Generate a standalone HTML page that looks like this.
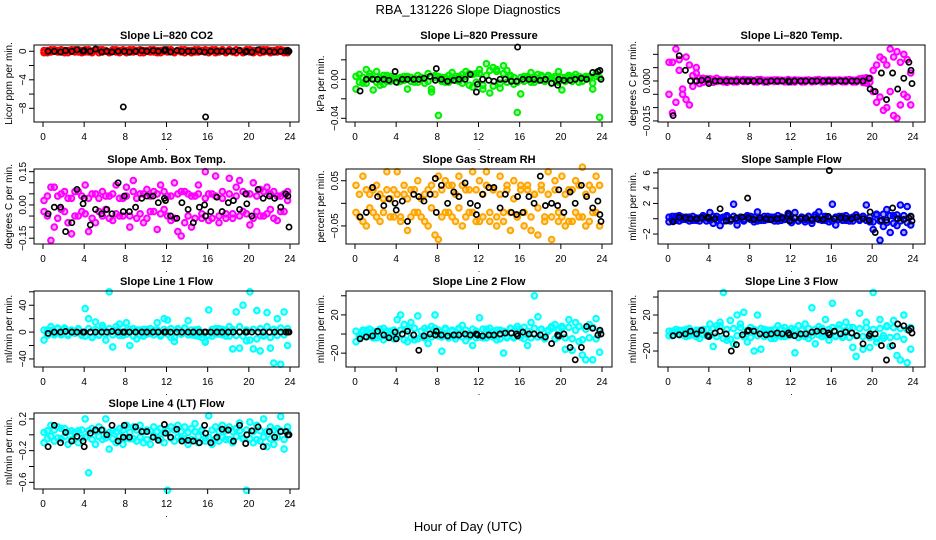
<!DOCTYPE html>
<html><head><meta charset="utf-8"><style>
html,body{margin:0;padding:0;background:#fff;}
svg{display:block;font-family:"Liberation Sans",sans-serif;}
</style></head><body>
<svg id="chart" width="936" height="540" viewBox="0 0 936 540">
<rect width="936" height="540" fill="#fff"/>
<text x="468" y="14" text-anchor="middle" font-size="13">RBA_131226  Slope Diagnostics</text>
<text x="468" y="531" text-anchor="middle" font-size="13">Hour of Day (UTC)</text>
</svg>
<script>
const cHours=[0.1,0.43,0.77,1.1,1.43,1.77,2.1,2.43,2.77,3.1,3.43,3.77,4.1,4.43,4.77,5.1,5.43,5.77,6.1,6.43,6.77,7.1,7.43,7.77,8.1,8.43,8.77,9.1,9.43,9.77,10.1,10.43,10.77,11.1,11.43,11.77,12.1,12.43,12.77,13.1,13.43,13.77,14.1,14.43,14.77,15.1,15.43,15.77,16.1,16.43,16.77,17.1,17.43,17.77,18.1,18.43,18.77,19.1,19.43,19.77,20.1,20.43,20.77,21.1,21.43,21.77,22.1,22.43,22.77,23.1,23.43,23.77];
const bHours=[0.5,1.1,1.7,2.2,2.8,3.3,3.9,4.0,4.6,5.1,5.7,6.2,6.7,7.3,7.8,7.9,8.4,9.0,9.6,10.1,10.7,11.2,11.8,11.9,12.4,13.0,13.5,14.1,14.6,15.2,15.7,15.8,16.3,16.9,17.4,18.0,18.5,19.1,19.7,19.8,20.3,20.9,21.4,22.0,22.5,23.1,23.6,23.8,23.9];
const xTicks=[0,4,8,12,16,20,24];

const co2A=[0.1,-0.2,0.2,0,-0.1,0.2,0.1,-0.2,0,0.2,-0.1,0.1,0.2,-0.1,0,0.1,-0.2,0.2,0,-0.1,0.1,0.2,-0.2,0,0.1,-0.1,0.2,0,-0.2,0.1,0,0.2,-0.1,0.1,-0.2,0,0.2,0,-0.1,0.1,0.2,-0.2,0,0.1,-0.1,0.2,0,-0.1,0.1,0.2,-0.2,0,0.1,-0.1,0.2,0,-0.2,0.1,0,0.2,-0.1,0.1,0,-0.2,0.2,0,0.1,-0.1,0.2,0,-0.2,0.1];
const co2B=[-0.2,0.1,-0.1,0.2,0.1,-0.1,-0.2,0.1,0.2,-0.1,0.2,-0.2,-0.1,0.2,-0.2,0.1,0.2,-0.1,0.1,-0.2,0.2,-0.1,0.1,0.2,-0.2,0.2,-0.1,0.1,0.2,-0.2,0.1,-0.1,0.2,-0.2,0.1,0.2,-0.1,0.2,-0.2,0.1,-0.1,0.2,0.1,-0.2,0.2,-0.1,0.1,0.2,-0.2,0.1,0.2,-0.1,0.2,-0.2,0.1,-0.1,0.2,0.1,-0.2,0.1,0.2,-0.2,0.1,0.2,-0.1,0.2,-0.2,0.1,-0.1,0.2,0.1,-0.2];
const co2K=[0,0,-0.1,0.1,0,0.2,0,0.1,0,0.3,-0.1,0,-0.1,0,-7.8,0,-0.1,0,0.1,0,0.1,0,0.1,0.2,-0.1,0.1,0,0,0,0,-0.1,-9.2,0,0,0,0,0,0.1,-0.1,0,-0.1,0.2,0,0,-0.1,0,0,0.1,0];

const presA=[-0.01,0.005,-0.004,0.01,0.003,-0.011,0.008,-0.006,0.004,-0.002,0.003,0.002,0.001,-0.002,0.003,-0.01,0.002,-0.003,0.004,0.002,-0.004,0.006,-0.01,0.004,-0.037,0.002,-0.003,0.004,0.007,0.003,-0.002,0.005,0.003,0.006,-0.008,0.006,0.01,-0.006,0.016,-0.014,0.012,0.008,-0.009,0.014,0.009,0.003,-0.005,-0.034,-0.015,0.003,0.002,0.007,-0.003,0.005,0.003,-0.002,0.004,0.002,0.003,0.008,-0.011,0.002,0.004,0.003,0.005,-0.003,0.002,0.003,0.001,-0.01,0.006,-0.039];
const presB=[0.003,-0.003,0.002,-0.004,0.006,0.001,-0.003,0.002,-0.005,0.004,-0.002,0.001,-0.003,0.002,-0.001,0.003,-0.002,0.001,-0.003,0.002,0.001,-0.002,-0.013,0.002,0.003,-0.002,0.002,-0.003,0.002,-0.001,0.003,-0.004,0.008,-0.006,0.005,-0.003,0.006,-0.01,0.004,0.009,-0.007,0.01,-0.004,0.006,-0.003,0.004,0.002,-0.003,0.002,-0.002,0.003,-0.003,0.002,-0.001,0.004,-0.002,0.003,-0.004,0.002,-0.003,0.002,-0.002,0.003,-0.002,0.001,0.003,-0.002,0.002,0.003,-0.004,0.003,0.002];
const presK=[-0.012,0,0,0,0,-0.001,0.008,-0.003,0,0,0,0,0.001,0.003,-0.001,0.011,0,-0.002,-0.001,0,0,0.005,-0.013,-0.005,0,-0.001,-0.002,0,0,-0.002,-0.002,0.033,0,0,0,-0.001,0,-0.004,-0.006,0,-0.001,-0.001,0,0.001,0,0.007,0.008,0.009,0];

const ltA=[0.007,-0.012,0.012,0.004,-0.005,0.009,-0.009,0.002,0.005,0.001,0.001,0.0003,0.0008,-0.0005,0.001,0.0003,-0.0003,0.0005,0.0002,-0.0004,0.0006,0.0003,-0.0002,0.0004,0.0003,-0.0003,0.0005,0.0002,-0.0004,0.0003,0.0002,-0.0002,0.0004,0.0001,-0.0003,0.0005,0.0002,-0.0004,0.0003,0.0002,-0.0003,0.0004,0.0001,-0.0002,0.0005,0.0002,-0.0003,0.0004,0.0003,-0.0002,0.0004,0.0002,-0.0003,0.0005,0.0003,-0.0004,0.0006,0.001,-0.0008,0.001,0.004,-0.008,0.009,-0.011,0.006,0.012,-0.013,0.011,-0.009,0.01,-0.006,0.003];
const ltB=[-0.005,0.007,-0.008,0.008,-0.003,-0.007,0.006,-0.002,0.003,-0.001,-0.0005,0.0008,-0.0004,0.0006,-0.0002,0.0004,0.0003,-0.0005,0.0003,0.0002,-0.0004,0.0003,0.0005,-0.0002,0.0004,0.0002,-0.0003,0.0005,0.0002,-0.0004,0.0003,0.0004,-0.0002,0.0003,0.0002,-0.0004,-0.0003,0.0004,0.0002,-0.0004,0.0003,0.0002,-0.0003,0.0004,0.0002,-0.0004,0.0003,0.0001,-0.0004,0.0003,0.0002,-0.0003,0.0004,0.0002,-0.0004,0.0003,0.0008,-0.0006,0.0012,-0.0005,-0.004,0.006,-0.006,0.008,-0.01,-0.004,0.009,-0.014,0.007,-0.005,0.008,-0.009];
const ltK=[-0.013,0.0095,0.004,0,0,0.0003,0.0005,-0.001,0,0,0,0,0,0,0,0,0,0,-0.0003,0,0,0,0,-0.0003,0,0,0,0,0,0,0,0,0,0,0,0,0,0,0.001,-0.003,-0.004,0.003,-0.007,0.003,-0.003,0.001,0.007,0.004,-0.001];

const ambA=[0.02,-0.05,0.08,-0.1,0.04,-0.02,0.06,-0.08,0.03,-0.05,0.06,-0.03,0.09,-0.12,0.05,-0.08,0.03,0.06,-0.02,0.04,-0.07,0.09,-0.05,0.03,0.08,-0.1,0.11,-0.06,0.05,-0.08,0.07,-0.03,0.06,-0.11,0.09,-0.02,0.04,-0.07,0.1,-0.12,0.06,-0.08,0.05,-0.1,0.04,0.09,-0.06,0.15,-0.07,0.05,0.13,-0.08,0.03,-0.06,0.12,-0.04,0.08,0.11,-0.03,0.05,-0.09,0.1,-0.03,0.07,-0.05,0.08,-0.02,0.06,-0.07,0.04,-0.03,0.02];
const ambB=[-0.03,0.04,-0.16,0.08,-0.06,0.05,-0.03,0.03,-0.13,0.06,-0.05,0.04,-0.04,0.03,-0.06,0.05,-0.03,-0.05,0.04,-0.06,0.05,-0.04,0.03,-0.05,0.04,-0.05,0.06,0.03,-0.04,0.05,-0.06,0.04,-0.03,0.05,-0.04,0.06,-0.05,0.04,-0.06,0.05,-0.14,0.06,-0.05,0.04,-0.06,0.05,-0.04,0.03,0.05,-0.06,0.04,-0.05,0.06,-0.04,0.05,-0.06,0.04,-0.05,0.06,-0.04,0.05,-0.06,0.04,-0.05,0.06,-0.04,0.05,-0.06,0.04,-0.03,0.05,0.06];
const ambK=[-0.04,-0.01,-0.01,-0.12,-0.08,0.07,0.005,0.03,-0.09,-0.02,-0.04,-0.02,-0.04,0.1,-0.03,0.04,-0.03,-0.01,0.03,0.04,0.04,0.01,0.03,0.02,-0.05,-0.06,0.01,-0.02,-0.08,-0.01,0,-0.05,-0.03,0.035,-0.03,0.01,0.02,-0.02,0.05,0.005,-0.05,0.07,0.03,0.04,0.03,-0.01,0.05,0.04,-0.1];

const rhA=[0.04,-0.03,0.06,-0.05,0.02,-0.02,0.04,-0.04,0.01,0.07,-0.03,0.03,0.07,-0.04,0.02,-0.06,0.03,-0.02,0.05,-0.03,0.02,-0.05,0.04,-0.07,0.06,-0.03,0.05,-0.02,0.04,-0.04,0.06,-0.05,0.03,-0.02,0.07,-0.04,0.05,-0.03,0.07,-0.04,0.03,-0.05,0.06,-0.02,0.04,-0.06,0.05,-0.03,0.04,-0.05,0.03,-0.06,0.02,-0.07,0.04,-0.03,0.07,-0.08,0.05,-0.04,0.06,-0.05,0.03,-0.04,0.05,-0.03,0.08,-0.05,0.04,-0.02,0.06,-0.05];
const rhB=[-0.02,0.02,-0.04,0.03,-0.01,0.03,-0.03,0.02,-0.02,0.03,0.01,-0.03,0.02,-0.03,0.04,0.01,-0.03,0.03,-0.02,0.01,-0.04,0.03,-0.01,0.02,-0.08,0.03,-0.02,0.04,-0.03,0.02,-0.01,0.04,-0.03,0.03,-0.02,0.03,-0.04,0.02,0.04,-0.02,0.03,-0.03,0.02,-0.04,0.03,-0.02,0.01,-0.03,0.03,-0.02,0.04,-0.03,0.02,-0.01,0.03,-0.04,0.02,-0.03,0.03,-0.02,-0.03,0.02,-0.04,0.03,-0.02,0.04,-0.03,0.02,-0.04,0.03,-0.02,0.04];
const rhK=[-0.03,-0.02,0.035,0.015,-0.005,0.01,0,-0.015,0.005,-0.04,0.02,0.015,0.005,0.02,0.055,-0.02,0.04,0,0.025,0.015,0.045,0,-0.025,-0.005,0.02,0.035,0.035,-0.01,0.02,-0.02,-0.025,0.015,-0.02,0.015,0,0.06,-0.005,0,-0.005,0.03,-0.02,0.025,0,0.04,0.015,-0.01,0.005,-0.025,-0.04];

const sfA=[-0.4,0.3,-0.2,0.4,-0.1,0.2,-0.3,0.3,-0.2,0.1,0.4,-0.3,0.8,-0.6,0.3,-0.9,0.2,0.4,-0.3,1.9,-0.8,0.2,-0.1,0.4,0.3,-0.4,0.9,-0.2,0.3,-0.1,0.2,-0.3,0.4,-0.2,0.1,0.7,-0.5,0.8,-0.3,0.2,-0.4,0.3,-0.6,0.5,0.9,-0.2,0.3,-0.4,1.9,-0.8,0.3,-0.2,0.4,-0.3,0.2,0.5,-0.2,0.3,1.8,-0.4,-1.4,0.6,-2.8,-1.0,1.2,-1.8,0.4,-0.9,1.8,-1.8,1.6,-0.8];
const sfB=[0.2,-0.2,0.3,-0.3,0.2,-0.1,0.2,-0.2,0.1,-0.3,0.2,0.1,-0.2,0.3,-0.2,0.1,-0.3,0.2,-0.1,0.3,-0.2,0.1,-0.3,0.2,-0.1,0.2,-0.3,0.1,-0.2,0.3,-0.1,0.2,-0.3,0.2,-0.1,0.3,-0.2,0.1,-0.3,0.2,-0.1,0.3,-0.2,0.2,-0.1,0.3,-0.2,0.1,-0.3,0.2,-0.1,0.3,-0.2,0.1,-0.3,0.2,-0.1,0.3,-0.2,0.2,-0.4,0.5,-0.3,0.6,-0.5,0.4,-0.6,0.5,-0.3,0.4,-0.5,0.3];
const sfK=[-0.4,0.2,0.1,0,0,0.1,0.2,0.1,0,1.3,-0.3,-0.1,0.1,0.2,2.7,0.1,-0.1,0.1,0,-0.1,0,0.1,0.6,-0.3,0.1,0,0.1,-0.1,0,-0.1,0.3,6.3,0,0.1,0.1,0,0.2,0,-0.2,0.9,-1.8,-0.2,-0.2,1.4,0,-0.1,0.1,0.3,-0.3];

const l1A=[-12,3,8,-2,5,-4,6,-3,2,-1,4,-5,35,20,-8,15,-4,10,-12,60,-22,8,12,-5,14,-20,5,-10,3,-6,4,-2,3,14,-4,20,18,-8,-14,5,-3,6,17,-4,3,-6,-3,-14,33,-6,5,-3,4,-6,8,-25,30,-24,40,-13,60,-25,32,-28,-5,29,-24,-46,20,-48,30,-20];
const l1B=[3,-5,2,-4,6,-3,4,-5,3,-2,5,-3,-6,5,-8,4,-5,6,-3,5,-4,3,-5,6,-3,4,-6,3,-5,4,-3,5,-4,3,-6,4,-3,5,-8,4,-3,6,-4,3,-5,4,-8,-15,-5,4,-3,5,-4,3,-6,4,-5,8,-6,3,-12,4,-10,5,-6,8,-8,4,-5,6,-4,5];
const l1K=[-2,0,0,1,0,0,0,0,0,0,0,0,1,0,0,0,0,0,0,0,0,0,0,0,0,0,0,0,0,0,0,0,0,0,0,0,0,0,0,0,0,0,0,0,0,0,0,0,0];

const l2A=[-8,-3,2,4,-2,3,-4,5,-6,3,-2,4,15,20,10,-8,12,-6,19,-3,6,-10,8,20,-2,-18,6,-3,4,-2,5,9,-7,-3,-12,3,17,-4,5,-2,3,-6,4,-20,-3,6,-4,8,-3,7,-12,12,40,18,5,-5,4,8,10,-3,8,-16,15,-17,12,-8,-22,-27,10,-27,16,-19];
const l2B=[3,-2,4,-3,5,-4,2,-3,6,-2,3,-5,-3,4,-6,5,-4,6,-5,3,-4,5,-3,6,4,-3,5,-4,3,-5,6,-3,4,-2,5,-4,-3,5,-4,6,-3,4,-5,3,-4,6,-3,5,4,-5,3,-4,6,-3,5,-4,3,6,-5,4,6,-4,7,-5,4,8,-6,5,-4,7,-5,3];
const l2K=[-5,-3,-2,3,-1,-4,2,-5,0,3,-1,-17,-2,0,-1,3,-1,-2,-1,-1,0,-1,0,-1,-2,-1,-1,0,1,1,0,-2,2,0,0,-1,-3,-10,-1,-2,0,-14,-27,-14,8,6,-1,4,0];

const l3A=[-3,2,4,-2,3,-4,5,-2,3,-6,4,-3,10,-15,8,12,45,-8,14,-12,20,10,23,-10,6,-20,20,-18,4,-2,3,-6,8,-4,6,-3,5,-22,8,-3,10,-6,28,-12,7,-4,15,-8,33,-4,9,-5,12,6,-16,-26,22,-18,12,-16,45,-10,15,-6,8,-15,14,-25,-30,20,-33,-18];
const l3B=[2,-3,1,3,-2,4,-3,2,-4,3,-2,4,-3,5,-4,8,-6,4,-7,5,-3,6,-4,3,-5,4,-3,5,-4,3,-6,4,-3,5,-4,3,-2,4,-5,3,-4,5,-3,4,-2,5,-3,4,6,-3,5,-4,3,-5,6,-3,5,-4,6,-5,4,-6,5,-3,7,-5,6,-4,5,-7,4,6];
const l3K=[-3,-2,-1,2,-1,3,-3,-4,0,2,-1,-20,-13,-2,2,3,2,-1,-2,-1,0,-1,0,-2,-3,-1,-1,1,2,2,0,-2,2,-1,1,0,-3,-12,-3,-1,-1,-14,-30,-14,10,8,3,5,0];

const l4A=[-0.1,0.05,0.12,-0.08,0.1,-0.05,0.08,-0.12,0.05,0.02,-0.1,0.06,0.2,-0.48,0.08,-0.12,0.1,-0.06,0.2,-0.18,0.05,-0.1,0.08,-0.12,0.12,-0.05,0.1,-0.08,0.12,-0.1,0.06,-0.12,0.1,-0.04,0.08,-0.1,-0.7,0.1,-0.08,0.12,-0.05,0.1,-0.12,0.08,0.14,-0.1,0.06,-0.08,0.24,-0.12,0.1,-0.08,0.12,-0.06,0.1,-0.1,0.08,0.15,-0.05,-0.7,0.16,-0.1,0.12,-0.08,0.2,-0.15,0.1,-0.12,0.08,0.23,-0.18,0.1];
const l4B=[0.03,-0.05,-0.02,0.06,-0.04,0.08,-0.02,0.04,-0.06,0.03,0.05,-0.04,-0.03,0.05,-0.06,0.04,-0.02,0.06,-0.04,0.03,-0.05,0.04,-0.02,0.06,-0.04,0.03,-0.05,0.06,-0.03,0.04,-0.06,0.05,-0.02,0.04,-0.05,0.03,0.05,-0.04,0.06,-0.03,0.04,-0.05,0.03,-0.06,0.04,-0.02,0.05,-0.04,-0.03,0.06,-0.05,0.04,-0.03,0.05,-0.06,0.04,-0.02,0.05,-0.04,0.06,-0.05,0.04,-0.06,0.05,-0.03,0.04,-0.05,0.06,-0.03,0.05,-0.06,0.04];
const l4K=[-0.15,0.12,-0.1,0.03,-0.08,-0.02,-0.08,-0.15,0.02,0.06,0.06,0,0.12,-0.08,-0.03,0.12,-0.03,0.1,0.04,0.04,-0.03,-0.07,0.13,0.02,-0.03,0.07,-0.08,-0.07,-0.08,-0.1,0.12,0.02,-0.1,-0.03,0.07,0.06,-0.08,0.12,-0.11,0,0.05,0.1,-0.15,0.04,-0.03,0.04,0.04,0,0];

const cols=[{L:34,R:299,x0:43,x1:290},{L:346,R:612,x0:355,x1:602},{L:658,R:925,x0:668,x1:913}];
const rows=[{T:45,B:122},{T:169,B:244},{T:291,B:367},{T:413,B:489}];
const panels=[
{id:'co2',c:0,r:0,title:'Slope Li\u2013820 CO2',ylab:'Licor ppm per min.',ymin:-9.92,ymax:0.88,ticks:[0,-2,-4,-6,-8],labels:{'0':'0','-4':'\u22124','-8':'\u22128'},col:'#ff0000',A:co2A,B:co2B,K:co2K},
{id:'pressure',c:1,r:0,title:'Slope Li\u2013820 Pressure',ylab:'kPa per min.',ymin:-0.0438,ymax:0.0352,ticks:[0.02,0,-0.02,-0.04],labels:{'0':'0.00','-0.04':'\u22120.04'},col:'#00ee00',A:presA,B:presB,K:presK},
{id:'li-temp',c:2,r:0,title:'Slope Li\u2013820 Temp.',ylab:'degrees C per min.',ymin:-0.0154,ymax:0.0135,ticks:[0.01,0.005,0,-0.005,-0.01,-0.015],labels:{'0':'0.000','-0.015':'\u22120.015'},col:'#ff00ff',A:ltA,B:ltB,K:ltK},
{id:'amb-temp',c:0,r:1,title:'Slope Amb. Box Temp.',ylab:'degrees C per min.',ymin:-0.176,ymax:0.162,ticks:[0.15,0.1,0.05,0,-0.05,-0.1,-0.15],labels:{'0.15':'0.15','0':'0.00','-0.15':'\u22120.15'},col:'#ff00ff',A:ambA,B:ambB,K:ambK},
{id:'gas-rh',c:1,r:1,title:'Slope Gas Stream RH',ylab:'percent per min.',ymin:-0.09,ymax:0.076,ticks:[0.05,0,-0.05],labels:{'0.05':'0.05','-0.05':'\u22120.05'},col:'#ffa500',A:rhA,B:rhB,K:rhK},
{id:'sample-flow',c:2,r:1,title:'Slope Sample Flow',ylab:'ml/min per min.',ymin:-3.3,ymax:6.5,ticks:[6,4,2,0,-2],labels:{'6':'6','4':'4','2':'2','-2':'\u22122'},col:'#0000ff',A:sfA,B:sfB,K:sfK},
{id:'line1-flow',c:0,r:2,title:'Slope Line 1 Flow',ylab:'ml/min per min.',ymin:-52,ymax:61.2,ticks:[60,40,20,0,-20,-40],labels:{'40':'40','0':'0','-40':'\u221240'},col:'#00ffff',A:l1A,B:l1B,K:l1K},
{id:'line2-flow',c:1,r:2,title:'Slope Line 2 Flow',ylab:'ml/min per min.',ymin:-34.5,ymax:45,ticks:[40,20,0,-20],labels:{'20':'20','-20':'\u221220'},col:'#00ffff',A:l2A,B:l2B,K:l2K},
{id:'line3-flow',c:2,r:2,title:'Slope Line 3 Flow',ylab:'ml/min per min.',ymin:-37.8,ymax:46.7,ticks:[40,20,0,-20],labels:{'20':'20','-20':'\u221220'},col:'#00ffff',A:l3A,B:l3B,K:l3K},
{id:'line4-flow',c:0,r:3,title:'Slope Line 4 (LT) Flow',ylab:'ml/min per min.',ymin:-0.684,ymax:0.275,ticks:[0.2,0,-0.2,-0.4,-0.6],labels:{'0.2':'0.2','-0.2':'\u22120.2','-0.6':'\u22120.6'},col:'#00ffff',A:l4A,B:l4B,K:l4K}
];
const NS='http://www.w3.org/2000/svg';
const svg=document.getElementById('chart');
function mk(tag,attrs,parent){const e=document.createElementNS(NS,tag);for(const k in attrs)e.setAttribute(k,attrs[k]);parent.appendChild(e);return e;}
panels.forEach(p=>{
  const C=cols[p.c],Rw=rows[p.r];
  const g=mk('g',{},svg);
  
  
  const xs=h=>C.x0+(h/24)*(C.x1-C.x0);
  const ys=v=>Rw.B-(v-p.ymin)/(p.ymax-p.ymin)*(Rw.B-Rw.T);
  const t=mk('text',{x:(C.L+C.R)/2,y:Rw.T-6,'text-anchor':'middle','font-size':'11','font-weight':'bold'},g);
  t.textContent=p.title;
  
  
  const cg=mk('g',{fill:p.col,'fill-opacity':'0.35',stroke:p.col,'stroke-width':'2'},g);
  
  
  [p.A,p.B].forEach(arr=>arr.forEach((v,i)=>{
    const c=mk('circle',{cx:xs(cHours[i]).toFixed(1),cy:ys(v).toFixed(1),r:'2.8'},cg);
    
    
  }));
  const kg=mk('g',{fill:'none',stroke:'#000','stroke-width':'1.7'},g);
  
  
  p.K.forEach((v,i)=>{
    const c=mk('circle',{cx:xs(bHours[i]).toFixed(1),cy:ys(v).toFixed(1),r:'2.6'},kg);
    
    
  });
  const box=mk('rect',{x:C.L,y:Rw.T,width:C.R-C.L,height:Rw.B-Rw.T,fill:'none',stroke:'#000','stroke-width':'1'},g);
  
  
  const xa=mk('g',{},g);
  
  
  mk('line',{x1:xs(0),x2:xs(24),y1:Rw.B,y2:Rw.B,stroke:'#000'},xa);
  xTicks.forEach(h=>{
    mk('line',{x1:xs(h),x2:xs(h),y1:Rw.B,y2:Rw.B+5,stroke:'#000'},xa);
    const tl=mk('text',{x:xs(h),y:Rw.B+18,'text-anchor':'middle','font-size':'10'},xa);
    tl.textContent=h;
    
    
  });
  const dot=mk('text',{x:(C.L+C.R)/2,y:Rw.B+28,'text-anchor':'middle','font-size':'9'},xa);
  dot.textContent='.';
  const ya=mk('g',{},g);
  
  
  p.ticks.forEach(v=>{
    const y=ys(v);
    mk('line',{x1:C.L-5,x2:C.L,y1:y,y2:y,stroke:'#000'},ya);
    const key=String(v);
    if(p.labels[key]!==undefined){
      const tl=mk('text',{x:C.L-8,y:y,'text-anchor':'middle','font-size':'10',transform:'rotate(-90 '+(C.L-8)+' '+y+')'},ya);
      tl.textContent=p.labels[key];
      
      
    }
  });
  const yc=(Rw.T+Rw.B)/2;
  const yt=mk('text',{x:C.L-22,y:yc,'text-anchor':'middle','font-size':'10',transform:'rotate(-90 '+(C.L-22)+' '+yc+')'},ya);
  yt.textContent=p.ylab;
  
  
});
</script>
</body></html>
